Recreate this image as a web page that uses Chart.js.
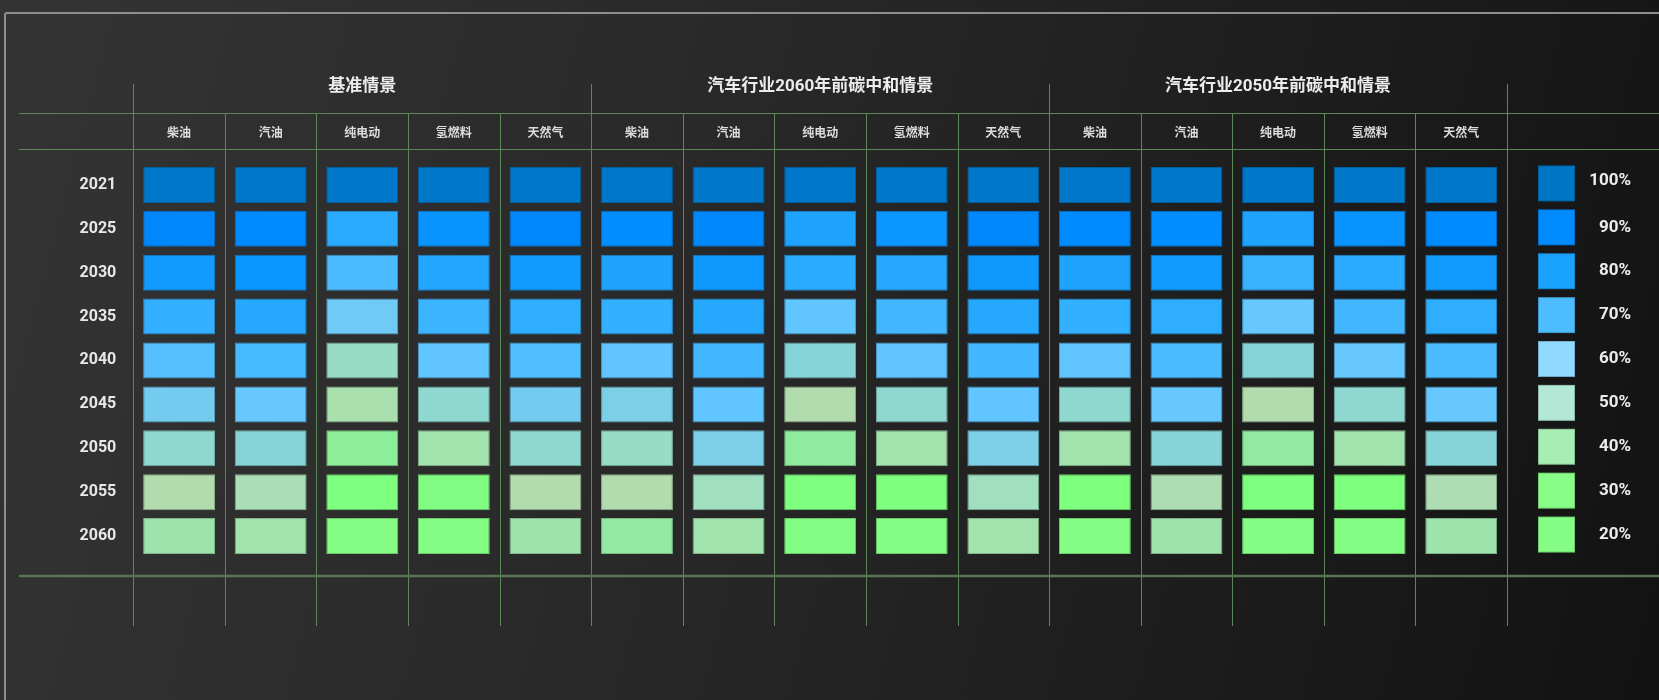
<!DOCTYPE html>
<html lang="zh-CN">
<head>
<meta charset="utf-8">
<title>分情景燃料消费变化</title>
<script src="https://cdn.jsdelivr.net/npm/chart.js@4.4.1/dist/chart.umd.min.js"></script>
<style>
  html, body { margin: 0; padding: 0; }
  body {
    width: 1659px;
    height: 700px;
    overflow: hidden;
    position: relative;
    background: linear-gradient(105deg, #343434 0%, #292929 40%, #1c1c1c 75%, #121212 100%);
  }
  .frame {
    position: absolute;
    left: 4px;
    top: 12px;
    width: 1720px;
    height: 760px;
    border: 2px solid #8e8e8e;
    border-radius: 3px;
  }
  .wrap { position: absolute; left: 0; top: 0; width: 1659px; height: 700px; }
</style>
</head>
<body>
<div class="frame"></div>
<div class="wrap"><canvas id="heat"></canvas></div>
<script>
const years = ['2021', '2025', '2030', '2035', '2040', '2045', '2050', '2055', '2060'];
const scenarios = ['基准情景', '汽车行业2060年前碳中和情景', '汽车行业2050年前碳中和情景'];
const fuels = ['柴油', '汽油', '纯电动', '氢燃料', '天然气'];

// % of 2021 level, one row per year, columns in the order of fuels
const baseline = [
  [100, 100, 100, 100, 100],
  [91, 90, 77, 87, 91],
  [84, 86, 70, 79, 84],
  [75, 78, 63, 73, 76],
  [68, 71, 52, 66, 69],
  [62, 65, 43, 55, 62],
  [55, 57, 34, 41, 55],
  [46, 48, 27, 29, 46],
  [40, 41, 20, 21, 40]
];
const neutral2060 = [
  [100, 100, 100, 100, 100],
  [89, 91, 80, 86, 91],
  [80, 85, 77, 78, 85],
  [75, 78, 66, 72, 78],
  [66, 72, 57, 66, 72],
  [60, 66, 46, 55, 66],
  [52, 60, 35, 41, 60],
  [46, 50, 27, 28, 50],
  [36, 41, 21, 21, 41]
];
const neutral2050 = [
  [100, 100, 100, 100, 100],
  [90, 89, 80, 87, 90],
  [80, 84, 74, 77, 84],
  [75, 76, 65, 72, 76],
  [66, 70, 57, 65, 70],
  [55, 65, 46, 55, 65],
  [41, 57, 36, 41, 57],
  [28, 47, 27, 28, 47],
  [21, 40, 21, 21, 40]
];

const legendTicks = [100, 90, 80, 70, 60, 50, 40, 30, 20];
const legendColors = ['#0077c6', '#008cff', '#1aa2ff', '#4dbdff', '#90d9ff', '#b3e8d6', '#a8edb3', '#88fd88', '#86fe86'];

// colour ramp for the cells
const rampStops = [100, 90, 85, 80, 75, 70, 65, 60, 55, 50, 46, 40, 35, 28, 20];
const rampColors = ['#0077c8', '#008aff', '#0f99ff', '#1ea3ff', '#33b0ff', '#4cbbff', '#66c8ff', '#7ccfe6',
  '#8ed8cf', '#a0dfc0', '#b3dcae', '#9ee3ac', '#90eb9e', '#7eff7e', '#85fd85'];

const FONT = 'Roboto, "Noto Sans CJK SC", sans-serif';
const LINE = '#5b875b';

function hexToRgb(hex) {
  const n = parseInt(hex.slice(1), 16);
  return [(n >> 16) & 255, (n >> 8) & 255, n & 255];
}
const rgb = c => `rgb(${c.map(Math.round).join(',')})`;
const shade = (c, f) => c.map(v => v * f);

function colorFor(v) {
  for (let i = 0; i < rampStops.length - 1; i++) {
    const hi = rampStops[i], lo = rampStops[i + 1];
    if (v <= hi && v >= lo) {
      const t = (hi - v) / (hi - lo);
      const a = hexToRgb(rampColors[i]), b = hexToRgb(rampColors[i + 1]);
      return a.map((c, k) => c + (b[k] - c) * t);
    }
  }
  return hexToRgb(v > rampStops[0] ? rampColors[0] : rampColors[rampColors.length - 1]);
}

const tables = [baseline, neutral2060, neutral2050];
const columns = scenarios.flatMap(() => fuels);
const half = 0.41;

// one dataset per year; each cell is a floating bar spanning its row
const datasets = years.map((year, r) => {
  const vals = tables.flatMap(t => t[r]);
  const cols = vals.map(colorFor);
  return {
    label: year,
    data: vals.map(() => [r - half, r + half]),
    values: vals,
    backgroundColor: cols.map(rgb),
    borderColor: cols.map(c => rgb(shade(c, 0.8))),
    borderWidth: 1,
    borderSkipped: false,
    grouped: false,
    categoryPercentage: 1,
    barPercentage: 0.785
  };
});

const tableFrame = {
  id: 'tableFrame',
  beforeDatasetsDraw(chart) {
    const { ctx, chartArea: area, scales: { x } } = chart;
    const colW = (area.right - area.left) / columns.length;
    const headTop = x.top;
    ctx.save();
    ctx.strokeStyle = LINE;
    ctx.lineWidth = 1;
    [headTop, area.top].forEach(py => {
      ctx.beginPath();
      ctx.moveTo(19, Math.round(py) + 0.5);
      ctx.lineTo(chart.width, Math.round(py) + 0.5);
      ctx.stroke();
    });
    // column rules; scenario borders reach up to the title row
    for (let i = 0; i <= columns.length; i++) {
      const px = Math.round(area.left + i * colW) + 0.5;
      const top = i % fuels.length === 0 ? headTop - 29 : headTop;
      ctx.beginPath();
      ctx.moveTo(px, top);
      ctx.lineTo(px, area.bottom + 50);
      ctx.stroke();
    }
    ctx.lineWidth = 2.5;
    ctx.strokeStyle = '#567656';
    ctx.beginPath();
    ctx.moveTo(19, area.bottom);
    ctx.lineTo(chart.width, area.bottom);
    ctx.stroke();
    ctx.restore();
  },
  afterDraw(chart) {
    const { ctx, chartArea: area, scales: { x, y } } = chart;
    const colW = (area.right - area.left) / columns.length;
    ctx.save();
    ctx.fillStyle = '#ececec';
    ctx.font = `bold 17px ${FONT}`;
    ctx.textAlign = 'center';
    ctx.textBaseline = 'middle';
    scenarios.forEach((name, s) => {
      const cx = area.left + (s * fuels.length + fuels.length / 2) * colW;
      ctx.fillText(name, cx, x.top - 26);
    });

    // legend column
    const rowH = Math.abs(y.getPixelForValue(half) - y.getPixelForValue(-half));
    const sx = area.right + 31, sw = 37;
    ctx.font = `bold 17px ${FONT}`;
    ctx.textAlign = 'right';
    legendTicks.forEach((tick, i) => {
      const cy = y.getPixelForValue(i) - 1.5;
      const c = hexToRgb(legendColors[i]);
      ctx.fillStyle = rgb(shade(c, 0.8));
      ctx.fillRect(sx, cy - rowH / 2, sw, rowH);
      ctx.fillStyle = legendColors[i];
      ctx.fillRect(sx + 1, cy - rowH / 2 + 1, sw - 2, rowH - 2);
      ctx.fillStyle = '#ececec';
      ctx.fillText(tick + '%', area.right + 124, i === 0 ? cy - 3 : cy);
    });
    ctx.restore();
  }
};

new Chart(document.getElementById('heat'), {
  type: 'bar',
  data: { labels: columns, datasets },
  options: {
    responsive: true,
    maintainAspectRatio: false,
    animation: false,
    layout: { padding: { left: 0, top: 113, right: 152, bottom: 124 } },
    plugins: {
      legend: { display: false },
      tooltip: {
        callbacks: {
          label: c => `${c.dataset.label}: ${c.dataset.values[c.dataIndex]}%`
        }
      }
    },
    scales: {
      x: {
        position: 'top',
        grid: { display: false, drawTicks: false },
        border: { display: false },
        ticks: {
          color: '#dcdcdc',
          font: { family: FONT, size: 12, weight: 'bold' },
          padding: 7,
          maxRotation: 0,
          autoSkip: false
        },
        afterFit: s => { s.height = 35.5; }
      },
      y: {
        reverse: true,
        min: -0.83,
        max: 8.91,
        grid: { display: false, drawTicks: false },
        border: { display: false },
        afterBuildTicks: s => { s.ticks = years.map((_, i) => ({ value: i })); },
        ticks: {
          color: '#e8e8e8',
          font: { family: FONT, size: 16, weight: 'bold' },
          padding: 17,
          autoSkip: false,
          callback: v => years[v]
        },
        afterFit: s => { s.width = 133.3; }
      }
    }
  },
  plugins: [tableFrame]
});
</script>
</body>
</html>
